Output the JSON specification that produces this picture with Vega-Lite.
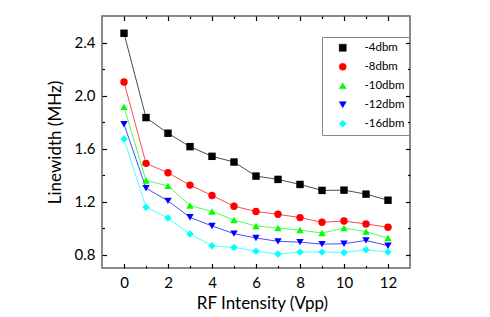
{
  "$schema": "https://vega.github.io/schema/vega-lite/v6.json",
  "width": 308,
  "height": 252,
  "autosize": "none",
  "padding": {"left": 102, "top": 16, "right": 80, "bottom": 49},
  "background": "white",
  "config": {
    "view": {"stroke": "#666666", "strokeWidth": 1.5},
    "font": "Lato",
    "axis": {"labelFont": "Lato", "titleFont": "Lato", "labelColor": "#000", "titleColor": "#000", "ticks": true, "tickColor": "#000", "tickWidth": 1.2, "tickOpacity": 1, "domain": false, "grid": false, "titleFontWeight": "normal", "labelFlush": false, "labelOverlap": false, "zindex": 1},
    "legend": {"orient": "none", "legendX": 220, "legendY": 21, "title": null, "strokeColor": "#888", "padding": 5, "labelFont": "Lato", "labelFontSize": 11.5, "labelColor": "#000", "symbolSize": 50, "rowPadding": 6, "labelOffset": 16, "symbolOffset": 10}
  },
  "data": {"values": [
    {"x": 0, "y": 2.47, "s": "-4dbm"}, {"x": 1, "y": 1.834, "s": "-4dbm"}, {"x": 2, "y": 1.716, "s": "-4dbm"}, {"x": 3, "y": 1.615, "s": "-4dbm"}, {"x": 4, "y": 1.542, "s": "-4dbm"}, {"x": 5, "y": 1.499, "s": "-4dbm"}, {"x": 6, "y": 1.393, "s": "-4dbm"}, {"x": 7, "y": 1.368, "s": "-4dbm"}, {"x": 8, "y": 1.33, "s": "-4dbm"}, {"x": 9, "y": 1.285, "s": "-4dbm"}, {"x": 10, "y": 1.287, "s": "-4dbm"}, {"x": 11, "y": 1.257, "s": "-4dbm"}, {"x": 12, "y": 1.211, "s": "-4dbm"},
    {"x": 0, "y": 2.102, "s": "-8dbm"}, {"x": 1, "y": 1.489, "s": "-8dbm"}, {"x": 2, "y": 1.418, "s": "-8dbm"}, {"x": 3, "y": 1.325, "s": "-8dbm"}, {"x": 4, "y": 1.247, "s": "-8dbm"}, {"x": 5, "y": 1.166, "s": "-8dbm"}, {"x": 6, "y": 1.126, "s": "-8dbm"}, {"x": 7, "y": 1.105, "s": "-8dbm"}, {"x": 8, "y": 1.08, "s": "-8dbm"}, {"x": 9, "y": 1.045, "s": "-8dbm"}, {"x": 10, "y": 1.054, "s": "-8dbm"}, {"x": 11, "y": 1.032, "s": "-8dbm"}, {"x": 12, "y": 1.007, "s": "-8dbm"},
    {"x": 0, "y": 1.915, "s": "-10dbm"}, {"x": 1, "y": 1.36, "s": "-10dbm"}, {"x": 2, "y": 1.319, "s": "-10dbm"}, {"x": 3, "y": 1.171, "s": "-10dbm"}, {"x": 4, "y": 1.126, "s": "-10dbm"}, {"x": 5, "y": 1.062, "s": "-10dbm"}, {"x": 6, "y": 1.017, "s": "-10dbm"}, {"x": 7, "y": 1.001, "s": "-10dbm"}, {"x": 8, "y": 0.986, "s": "-10dbm"}, {"x": 9, "y": 0.964, "s": "-10dbm"}, {"x": 10, "y": 1.001, "s": "-10dbm"}, {"x": 11, "y": 0.974, "s": "-10dbm"}, {"x": 12, "y": 0.926, "s": "-10dbm"},
    {"x": 0, "y": 1.784, "s": "-12dbm"}, {"x": 1, "y": 1.302, "s": "-12dbm"}, {"x": 2, "y": 1.206, "s": "-12dbm"}, {"x": 3, "y": 1.082, "s": "-12dbm"}, {"x": 4, "y": 1.017, "s": "-12dbm"}, {"x": 5, "y": 0.959, "s": "-12dbm"}, {"x": 6, "y": 0.926, "s": "-12dbm"}, {"x": 7, "y": 0.901, "s": "-12dbm"}, {"x": 8, "y": 0.895, "s": "-12dbm"}, {"x": 9, "y": 0.88, "s": "-12dbm"}, {"x": 10, "y": 0.883, "s": "-12dbm"}, {"x": 11, "y": 0.908, "s": "-12dbm"}, {"x": 12, "y": 0.868, "s": "-12dbm"},
    {"x": 0, "y": 1.673, "s": "-16dbm"}, {"x": 1, "y": 1.158, "s": "-16dbm"}, {"x": 2, "y": 1.077, "s": "-16dbm"}, {"x": 3, "y": 0.956, "s": "-16dbm"}, {"x": 4, "y": 0.868, "s": "-16dbm"}, {"x": 5, "y": 0.855, "s": "-16dbm"}, {"x": 6, "y": 0.827, "s": "-16dbm"}, {"x": 7, "y": 0.805, "s": "-16dbm"}, {"x": 8, "y": 0.82, "s": "-16dbm"}, {"x": 9, "y": 0.82, "s": "-16dbm"}, {"x": 10, "y": 0.817, "s": "-16dbm"}, {"x": 11, "y": 0.838, "s": "-16dbm"}, {"x": 12, "y": 0.82, "s": "-16dbm"}
  ]},
  "layer": [
    {
      "mark": {"type": "line", "strokeWidth": 1, "opacity": 0.7},
      "encoding": {
        "x": {"field": "x", "type": "quantitative", "scale": {"domain": [-1, 13], "nice": false, "zero": false},
          "axis": {"orient": "bottom", "values": [0,2,4,6,8,10,12], "offset": -4.5, "ticks": true, "tickSize": 4.5,
            "labelPadding": 7.5, "labelFontSize": 15, "title": "RF Intensity (Vpp)", "titleFontSize": 17, "titlePadding": 5, "titleX": 160}},
        "y": {"field": "y", "type": "quantitative", "scale": {"domain": [0.7, 2.6], "nice": false, "zero": false},
          "axis": {"orient": "left", "values": [0.8,1.2,1.6,2.0,2.4], "format": ".1f", "offset": -4.5, "ticks": true, "tickSize": 4.5,
            "labelPadding": 7, "labelFontSize": 15, "title": "Linewidth (MHz)", "titleFontSize": 17, "titlePadding": 10}},
        "color": {"field": "s", "type": "nominal", "scale": {"domain": ["-4dbm","-8dbm","-10dbm","-12dbm","-16dbm"], "range": ["#000000","#ff0000","#00ff00","#0000ff","#00ffff"]},
          "legend": {"encoding": {"symbols": {
              "stroke": {"value": {"expr": "scale('color', datum.value)"}},
              "strokeWidth": {"value": 0.5},
              "fill": {"value": {"expr": "scale('color', datum.value)"}},
              "opacity": {"value": 1}
            }}}}
      }
    },
    {
      "mark": {"type": "point", "filled": true, "opacity": 1, "size": 55},
      "encoding": {
        "x": {"field": "x", "type": "quantitative", "scale": {"domain": [-1, 13], "nice": false, "zero": false},
          "axis": {"orient": "bottom", "values": [1,3,5,7,9,11], "offset": -2.5, "ticks": true, "tickSize": 2.5, "labels": false, "title": null}},
        "y": {"field": "y", "type": "quantitative", "scale": {"domain": [0.7, 2.6], "nice": false, "zero": false},
          "axis": {"orient": "left", "values": [1.0,1.4,1.8,2.2], "offset": -2.5, "ticks": true, "tickSize": 2.5, "labels": false, "title": null}},
        "color": {"field": "s", "type": "nominal", "scale": {"domain": ["-4dbm","-8dbm","-10dbm","-12dbm","-16dbm"], "range": ["#000000","#ff0000","#00ff00","#0000ff","#00ffff"]}, "legend": null},
        "shape": {"field": "s", "type": "nominal", "scale": {"domain": ["-4dbm","-8dbm","-10dbm","-12dbm","-16dbm"], "range": ["square","circle","triangle-up","triangle-down","diamond"]}, "legend": null}
      }
    },
    {
      "mark": {"type": "point", "opacity": 0},
      "encoding": {
        "x": {"field": "x", "type": "quantitative", "scale": {"domain": [-1, 13], "nice": false, "zero": false},
          "axis": {"orient": "top", "values": [0,2,4,6,8,10,12], "labels": false, "title": null, "offset": -4.5, "ticks": true, "tickSize": 4.5}},
        "y": {"field": "y", "type": "quantitative", "scale": {"domain": [0.7, 2.6], "nice": false, "zero": false},
          "axis": {"orient": "right", "values": [0.8,1.2,1.6,2.0,2.4], "labels": false, "title": null, "offset": -4.5, "ticks": true, "tickSize": 4.5}}
      }
    },
    {
      "mark": {"type": "point", "opacity": 0},
      "encoding": {
        "x": {"field": "x", "type": "quantitative", "scale": {"domain": [-1, 13], "nice": false, "zero": false},
          "axis": {"orient": "top", "values": [1,3,5,7,9,11], "labels": false, "title": null, "offset": -2.5, "ticks": true, "tickSize": 2.5}},
        "y": {"field": "y", "type": "quantitative", "scale": {"domain": [0.7, 2.6], "nice": false, "zero": false},
          "axis": {"orient": "right", "values": [1.0,1.4,1.8,2.2], "labels": false, "title": null, "offset": -2.5, "ticks": true, "tickSize": 2.5}}
      }
    }
  ],
  "resolve": {"axis": {"x": "independent", "y": "independent"}}
}
